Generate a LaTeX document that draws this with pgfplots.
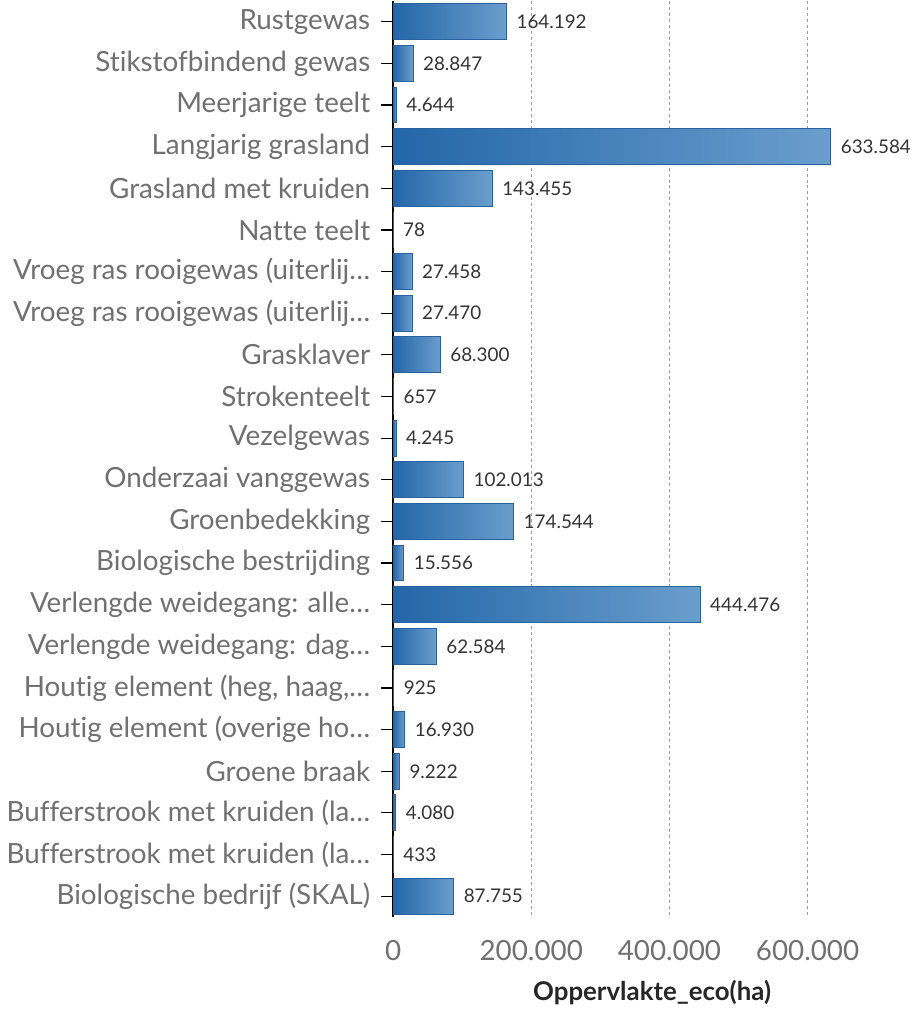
\documentclass[border=0pt]{standalone}
\usepackage{pgfplots}
\pgfplotsset{compat=1.18}
\usepackage{fontspec}
\setmainfont{Lato}[Ligatures=NoCommon]
\definecolor{barL}{HTML}{2366A8}
\definecolor{barR}{HTML}{6A9ECD}
\definecolor{barEdge}{HTML}{2A62A0}
\definecolor{lblgray}{HTML}{707070}
\definecolor{valtxt}{HTML}{333333}
\pgfplotsset{
    ecobar/.style={draw=barEdge, line width=0.5pt, left color=barL, right color=barR,
        bar shift=0pt, forget plot},
}
\begin{document}
\begin{tikzpicture}
\begin{axis}[
    xbar,
    scale only axis,
    width=261pt, height=461.5pt,
    y dir=reverse,
    ymin=-0.5, ymax=21.5,
    xmin=0, xmax=750000,
    bar width=0.86,
    axis lines*=left,
    x axis line style={draw=none},
    y axis line style={black, line width=0.9pt},
    ytick={0,...,21},
    yticklabels={Rustgewas, Stikstofbindend gewas, Meerjarige teelt, Langjarig grasland,
        Grasland met kruiden, Natte teelt, Vroeg ras rooigewas (uiterlij…,
        Vroeg ras rooigewas (uiterlij…, Grasklaver, Strokenteelt, Vezelgewas,
        Onderzaai vanggewas, Groenbedekking, Biologische bestrijding,
        Verlengde weidegang: alle…, Verlengde weidegang: dag…,
        {Houtig element (heg, haag,…}, Houtig element (overige ho…, Groene braak,
        Bufferstrook met kruiden (la…, Bufferstrook met kruiden (la…,
        Biologische bedrijf (SKAL)},
    ytick style={black, line width=0.6pt},
    tick align=outside,
    major tick length=6pt,
    scaled x ticks=false,
    xtick={0,200000,400000,600000},
    xticklabels={0,200.000,400.000,600.000},
    xtick style={draw=none},
    xmajorgrids,
    grid style={lblgray!70, dash pattern=on 1.5pt off 1.5pt, line width=0.5pt},
    tick label style={font=\fontsize{14}{16}\selectfont, text=lblgray},
    yticklabel style={xshift=-2pt},
    xticklabel style={yshift=-2pt},
    xlabel={Oppervlakte\_eco(ha)},
    xlabel style={font=\fontsize{13}{15}\selectfont\bfseries, text=black!85, yshift=-3pt},
    nodes near coords,
    nodes near coords align=horizontal,
    every node near coord/.append style={font=\fontsize{9.5}{11}\selectfont, text=valtxt, xshift=1.5pt},
    /pgf/number format/.cd, fixed, precision=0, 1000 sep={.}, assume math mode=true,
    /pgfplots/.cd,
    clip=false,
]
\addplot[ecobar] coordinates {(164192,0)};
\addplot[ecobar] coordinates {(28847,1)};
\addplot[ecobar] coordinates {(4644,2)};
\addplot[ecobar] coordinates {(633584,3)};
\addplot[ecobar] coordinates {(143455,4)};
\addplot[ecobar] coordinates {(78,5)};
\addplot[ecobar] coordinates {(27458,6)};
\addplot[ecobar] coordinates {(27470,7)};
\addplot[ecobar] coordinates {(68300,8)};
\addplot[ecobar] coordinates {(657,9)};
\addplot[ecobar] coordinates {(4245,10)};
\addplot[ecobar] coordinates {(102013,11)};
\addplot[ecobar] coordinates {(174544,12)};
\addplot[ecobar] coordinates {(15556,13)};
\addplot[ecobar] coordinates {(444476,14)};
\addplot[ecobar] coordinates {(62584,15)};
\addplot[ecobar] coordinates {(925,16)};
\addplot[ecobar] coordinates {(16930,17)};
\addplot[ecobar] coordinates {(9222,18)};
\addplot[ecobar] coordinates {(4080,19)};
\addplot[ecobar] coordinates {(433,20)};
\addplot[ecobar] coordinates {(87755,21)};
\end{axis}
\end{tikzpicture}
\end{document}
